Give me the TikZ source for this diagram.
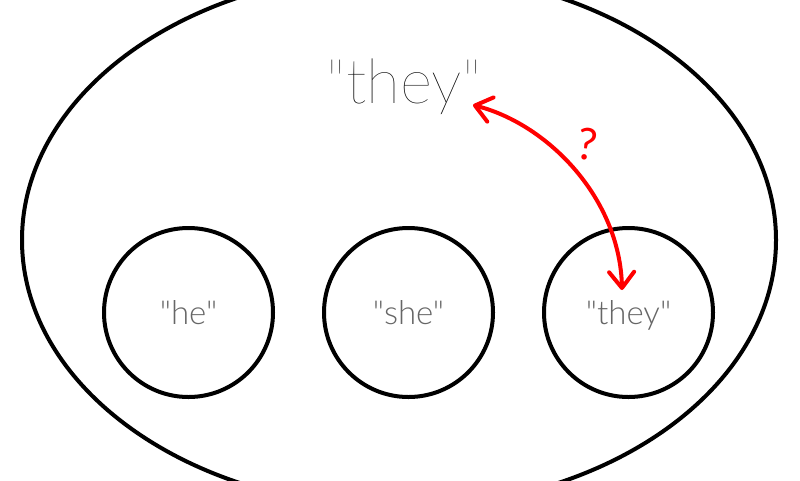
\documentclass[tikz,border=0pt]{standalone}
\usepackage{fontspec}
\setmainfont{Lato}
\newfontfamily\thinfont{Lato Thin}
\newfontfamily\lightfont{Lato Light}
\usetikzlibrary{positioning,arrows.meta,shapes.geometric}

\tikzset{
  bubble/.style={circle, draw, line width=4pt, minimum size=169pt, inner sep=0pt, outer sep=0pt,
    font=\lightfont\fontsize{33}{36}\selectfont, text=black!60, text height=24pt, text depth=0pt},
  guess/.style={draw=red, line width=4pt, line cap=round,
    {Straight Barb[length=16pt,width=25pt,round]}-{Straight Barb[length=16pt,width=25pt,round]}}
}

\begin{document}
\begin{tikzpicture}[x=1pt, y=-1pt]
        \useasboundingbox (0,0) rectangle (800,480);
        \node[ellipse, draw, line width=4pt, minimum width=754pt, minimum height=536pt, inner sep=0pt, outer sep=0pt] (world) at (399,240) {};
        \node[anchor=base, font=\thinfont\fontsize{62}{70}\selectfont, text=black] (bigthey) at (404,103) {"they"};
        
        \node[bubble] (he) at (188.5,312.5) {"he"};
        \node[bubble, right=51pt of he] (she) {"she"};
        \node[bubble, right=51pt of she] (they) {"they"};
        
        \coordinate (top) at (473,105);
        \coordinate (bottom) at (622,290);
        \draw[guess] (top) .. controls (550,125) and (620,200) .. (bottom);
        \node[text=red, font=\fontsize{44}{48}\selectfont, rotate=-8] (qmark) at (587,144) {?};
    \end{tikzpicture}
\end{document}
